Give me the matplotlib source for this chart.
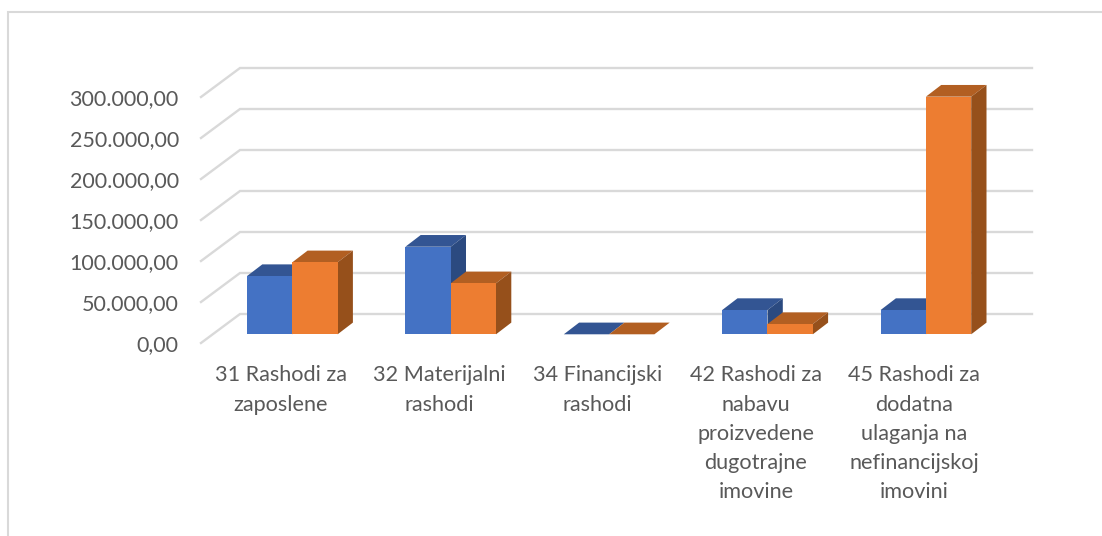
import numpy as np
import matplotlib

matplotlib.use('Agg')
import matplotlib.pyplot as plt
from matplotlib.lines import Line2D
from matplotlib.patches import Polygon

plt.rcParams['font.family'] = ['Lato', 'DejaVu Sans']

categories = ['31 Rashodi za\nzaposlene',
              '32 Materijalni\nrashodi',
              '34 Financijski\nrashodi',
              '42 Rashodi za\nnabavu\nproizvedene\ndugotrajne\nimovine',
              '45 Rashodi za\ndodatna\nulaganja na\nnefinancijskoj\nimovini']
blue_vals = [71000, 106800, 0, 29600, 29600]
orange_vals = [87800, 62200, 0, 12500, 289800]
tick_vals = [0, 50000, 100000, 150000, 200000, 250000, 300000]
tick_labels = ['0,00', '50.000,00', '100.000,00', '150.000,00', '200.000,00', '250.000,00', '300.000,00']

W, H = 1102, 536
PX_X = 158.4  # pikseli po kategoriji
PX_Y = 0.82 / 1000  # pikseli po vrijednosti
BAR_W = 45.3 / PX_X
DEPTH_X = 15.3 / PX_X
DEPTH_Y = 11.7 / PX_Y
GRID = '#d9d9d9'
TXT = '#595959'

fig = plt.figure(figsize=(W / 100, H / 100), dpi=100)
# okvir: samo lijevi i gornji rub se vide
fig.add_artist(Line2D([8 / W, 8 / W, 1], [0, 1 - 12 / H, 1 - 12 / H], color=GRID, lw=1.5,
                      solid_joinstyle='miter'))

# osi od prednjeg ruba zida do kraja straznjih linija
ax = fig.add_axes([201 / W, (H - 343) / H, (1032 - 201) / W, (343 - 67.7) / H])
ax.set_xlim((201 - 292.3) / PX_X, (1032 - 292.3) / PX_X)
ax.set_ylim(-8.7 / PX_Y, (334.3 - 67.7) / PX_Y)
ax.patch.set_visible(False)
for s in ax.spines.values():
    s.set_visible(False)

front_off = -8.7 / PX_Y
back_off = 20.3 / PX_Y
wall_dx = 39 / PX_X
x_left = ax.get_xlim()[0]
x_right = ax.get_xlim()[1]
for v in tick_vals:
    ax.plot([x_left, x_left + wall_dx, x_right],
            [v + front_off, v + back_off, v + back_off],
            color=GRID, lw=1.7, clip_on=False, zorder=1, solid_joinstyle='miter')


def draw_bars(xs, vals, front, top, side, z):
    ax.bar(xs, vals, width=BAR_W, align='edge', color=front, zorder=z + 1, lw=0)
    for x, v in zip(xs, vals):
        ax.add_patch(Polygon([(x, v), (x + BAR_W, v), (x + BAR_W + DEPTH_X, v + DEPTH_Y), (x + DEPTH_X, v + DEPTH_Y)],
                             closed=True, fc=top, ec='none', zorder=z))
        if v > 0:
            ax.add_patch(Polygon([(x + BAR_W, 0), (x + BAR_W + DEPTH_X, DEPTH_Y), (x + BAR_W + DEPTH_X, v + DEPTH_Y),
                                  (x + BAR_W, v)], closed=True, fc=side, ec='none', zorder=z))


pos = np.arange(len(categories))
draw_bars(pos - BAR_W, blue_vals, '#4472c4', '#335593', '#2b4a80', 2)
draw_bars(pos, orange_vals, '#ed7d31', '#b25f22', '#96501b', 4)

ax.set_yticks([v + front_off for v in tick_vals])
ax.set_yticklabels(tick_labels)
ax.set_xticks(pos - 11.5 / PX_X)
ax.set_xticklabels(categories, linespacing=1.58)
ax.tick_params(axis='y', length=0, pad=16, labelsize=15.5, labelcolor=TXT)
ax.tick_params(axis='x', length=0, pad=16, labelsize=15.6, labelcolor=TXT)

fig.savefig('out.png', dpi=100)
